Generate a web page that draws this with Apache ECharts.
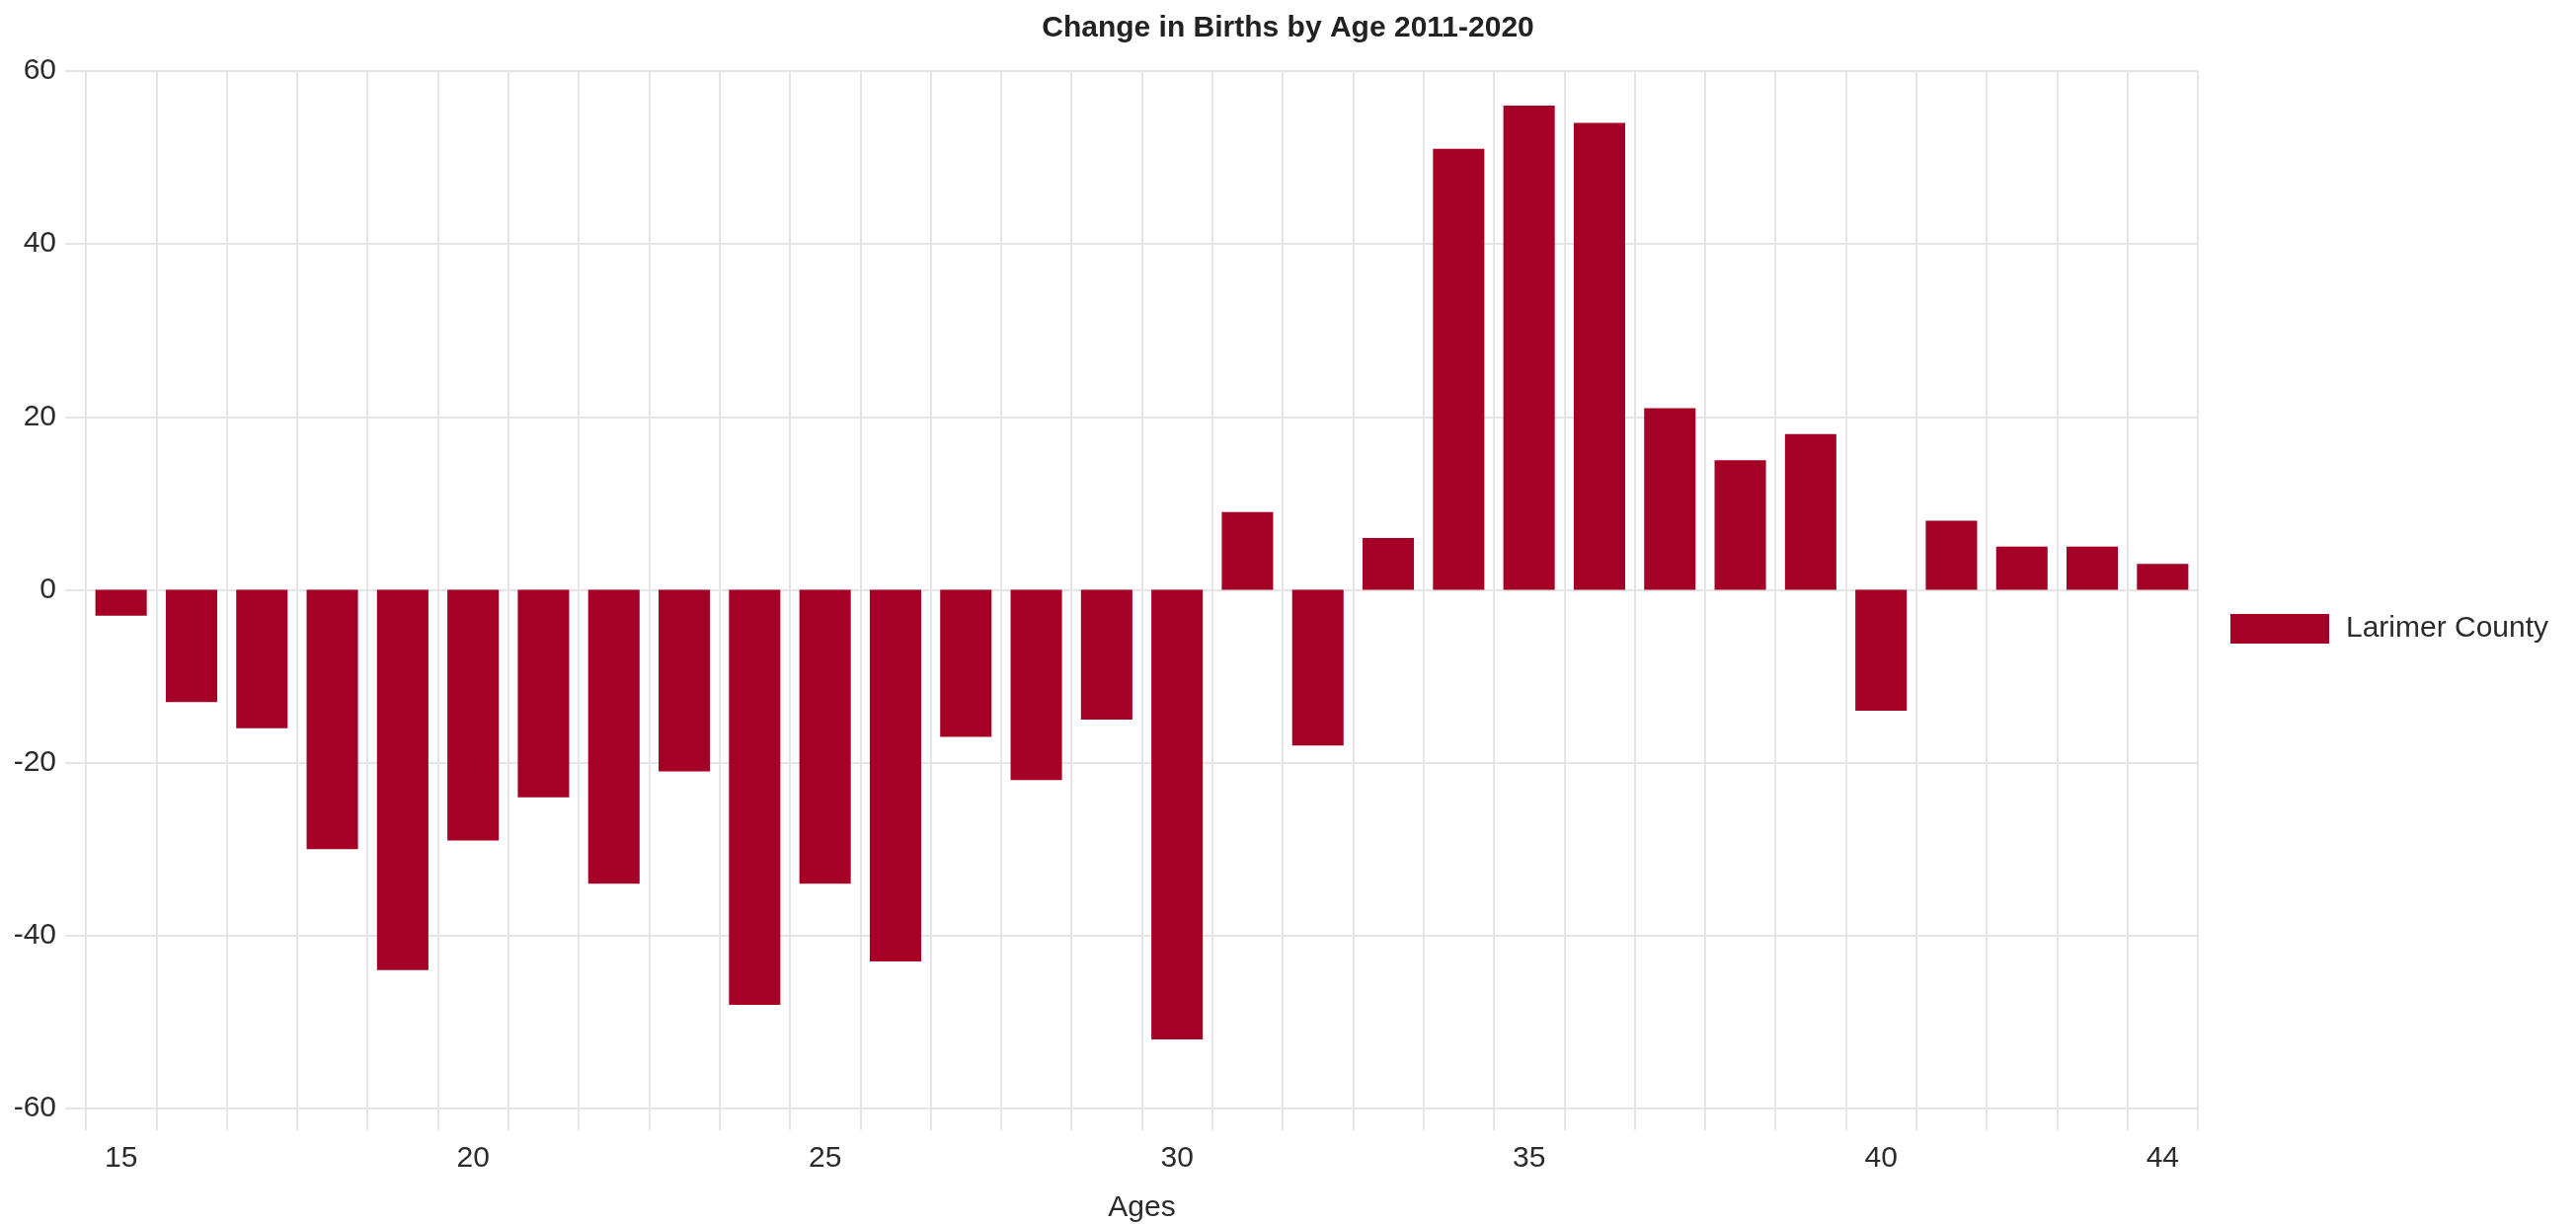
<!DOCTYPE html>
<html>
<head>
<meta charset="utf-8">
<title>Change in Births by Age 2011-2020</title>
<script src="https://cdn.jsdelivr.net/npm/echarts@6.0.0/dist/echarts.min.js"></script>
<style>
  html, body { margin: 0; padding: 0; background: #fff; }
  #chart { width: 2609px; height: 1240px; }
</style>
</head>
<body>
<div id="chart"></div>
<script>
// 年龄（X轴）
const ages = ['15', '16', '17', '18', '19', '20', '21', '22', '23', '24',
  '25', '26', '27', '28', '29', '30', '31', '32', '33', '34',
  '35', '36', '37', '38', '39', '40', '41', '42', '43', '44']
// 出生数变化
const larimerCounty = [-3, -13, -16, -30, -44, -29, -24, -34, -21, -48,
  -34, -43, -17, -22, -15, -52, 9, -18, 6, 51,
  56, 54, 21, 15, 18, -14, 8, 5, 5, 3]
const seriesName = 'Larimer County'
const yTicks = { min: -60, max: 60, step: 20 }

const fontFamily = '"Liberation Sans", Arial, Helvetica, sans-serif'
const gridColor = '#e5e5e5'
const barColor = '#a50026'
const textColor = '#2b2b2b'

const chart = echarts.init(document.getElementById('chart'))

const option = {
  animation: false,
  textStyle: { fontFamily },
  title: {
    text: 'Change in Births by Age 2011-2020',
    left: 'center',
    top: 9,
    textStyle: {
      fontFamily,
      fontSize: 30,
      fontWeight: 'bold',
      color: '#222'
    }
  },
  legend: {
    orient: 'vertical',
    left: 2254,
    top: 617,
    icon: 'rect',
    itemWidth: 100,
    itemHeight: 30,
    data: [seriesName],
    textStyle: {
      fontFamily,
      fontSize: 30,
      color: textColor,
      padding: [0, 0, 0, 12]
    }
  },
  grid: {
    left: 87,
    right: 383,
    top: 72,
    bottom: 117,
    containLabel: false,
    outerBoundsMode: 'none'
  },
  xAxis: {
    type: 'category',
    data: ages,
    boundaryGap: true,
    name: 'Ages',
    nameLocation: 'middle',
    nameGap: 86,
    nameTextStyle: { fontSize: 30, color: textColor, fontFamily },
    axisLine: { onZero: false, lineStyle: { color: gridColor, width: 2 } },
    axisTick: {
      show: true,
      interval: 0,
      length: 22,
      lineStyle: { color: gridColor, width: 2 }
    },
    axisLabel: {
      // 只显示 15, 20, 25 ... 和最后一个
      interval: (index) => index % 5 === 0 || index === ages.length - 1,
      fontSize: 30,
      color: textColor,
      margin: 36
    },
    splitLine: {
      show: true,
      interval: 0,
      lineStyle: { color: gridColor, width: 2 }
    }
  },
  yAxis: {
    type: 'value',
    min: yTicks.min,
    max: yTicks.max,
    interval: yTicks.step,
    axisLine: { show: true, lineStyle: { color: gridColor, width: 2 } },
    axisTick: { show: true, length: 21, lineStyle: { color: gridColor, width: 2 } },
    axisLabel: { fontSize: 30, color: textColor, margin: 30 },
    splitLine: { lineStyle: { color: gridColor, width: 2 } }
  },
  series: [
    {
      name: seriesName,
      type: 'bar',
      data: larimerCounty,
      barCategoryGap: '27%',
      itemStyle: { color: barColor }
    }
  ]
}

chart.setOption(option)
window.addEventListener('resize', () => chart.resize())
</script>
</body>
</html>
